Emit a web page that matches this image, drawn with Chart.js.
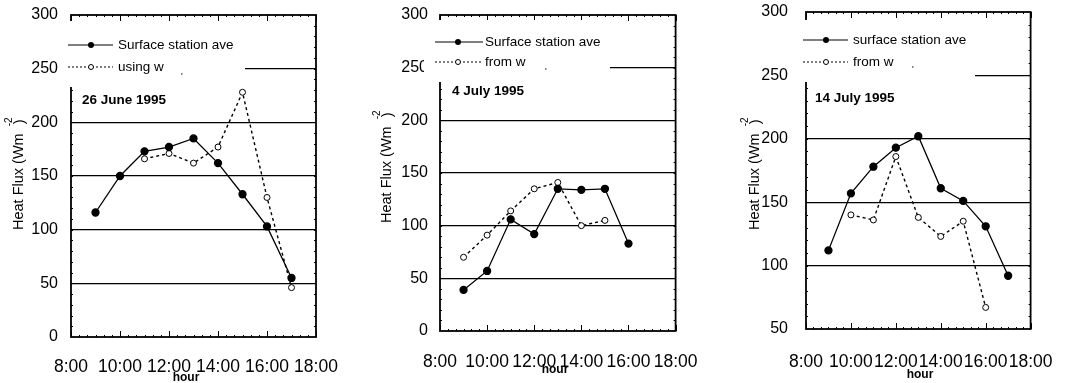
<!DOCTYPE html>
<html>
<head>
<meta charset="utf-8">
<script src="https://cdn.jsdelivr.net/npm/chart.js@4"></script>
<style>
    html, body { margin: 0; padding: 0; background: #fff; }
    canvas { position: absolute; top: 0; }
</style>
</head>
<body>
<canvas id="june26" width="358" height="383" style="left:0px"></canvas>
<canvas id="july4" width="358" height="383" style="left:360px"></canvas>
<canvas id="july14" width="355" height="383" style="left:720px"></canvas>
<script>
// tick labels for the hour axis
const hourTicks = [8, 10, 12, 14, 16, 18];
const hourLabels = ["8:00", "10:00", "12:00", "14:00", "16:00", "18:00"];

// 26 June 1995
const june26SurfaceHours = [9, 10, 11, 12, 13, 14, 15, 16, 17];
const june26Surface = [116, 150, 173, 177, 185, 162, 133, 103, 55];
const june26WHours = [11, 12, 13, 14, 15, 16, 17];
const june26W = [166, 171, 162, 177, 228, 130, 46];

// 4 July 1995
const july4SurfaceHours = [9, 10, 11, 12, 13, 14, 15, 16];
const july4Surface = [39, 57, 106, 92, 135, 134, 135, 83];
const july4WHours = [9, 10, 11, 12, 13, 14, 15];
const july4W = [70, 91, 114, 135, 141, 100, 105];

// 14 July 1995
const july14SurfaceHours = [9, 10, 11, 12, 13, 14, 15, 16, 17];
const july14Surface = [112, 157, 178, 193, 202, 161, 151, 131, 92];
const july14WHours = [10, 11, 12, 13, 14, 15, 16];
const july14W = [140, 136, 186, 138, 123, 135, 67];

const FONT = "'Liberation Sans', Arial, Helvetica, sans-serif";

function pts(hours, vals) {
    return hours.map((h, i) => ({ x: h, y: vals[i] }));
}

// frame, minor ticks, legend box, date and axis titles
function panelPlugin(p) {
    return {
        id: "panel",
        afterDraw(chart) {
            const c = chart.ctx;
            const a = chart.chartArea;
            const xs = chart.scales.x, ys = chart.scales.y;
            c.save();
            c.strokeStyle = "#000";
            c.fillStyle = "#000";

            // ticks on top and bottom
            c.lineWidth = 1;
            for (let i = 0; i <= 30; i++) {
                const px = Math.round(xs.getPixelForValue(8 + i / 3)) + 0.5;
                const len = i % 6 === 0 ? 6 : 2;
                c.beginPath();
                c.moveTo(px, a.bottom); c.lineTo(px, a.bottom - len);
                c.moveTo(px, a.top); c.lineTo(px, a.top + len);
                c.stroke();
            }
            for (let v = p.yMin + 10; v < 300; v += 10) {
                const py = Math.round(ys.getPixelForValue(v)) + 0.5;
                c.beginPath();
                c.moveTo(a.left, py); c.lineTo(a.left + 2, py);
                c.moveTo(a.right, py); c.lineTo(a.right - 2, py);
                c.stroke();
            }
            c.lineWidth = 1.8;
            c.strokeRect(a.left, a.top, a.right - a.left, a.bottom - a.top);

            // legend box hides the frame and grid behind it
            c.fillStyle = "#fff";
            c.fillRect(p.box[0], p.box[1], p.box[2] - p.box[0], p.box[3] - p.box[1]);

            c.fillStyle = "#000";
            c.lineWidth = 1.2;
            c.beginPath();
            c.moveTo(p.legLine[0], p.legY[0]); c.lineTo(p.legLine[1], p.legY[0]);
            c.stroke();
            c.beginPath();
            c.arc(p.legMark, p.legY[0], 3, 0, Math.PI * 2);
            c.fill();
            c.setLineDash([2, 2]);
            c.beginPath();
            c.moveTo(p.legLine[0], p.legY[1]); c.lineTo(p.legLine[1], p.legY[1]);
            c.stroke();
            c.setLineDash([]);
            c.fillStyle = "#fff";
            c.beginPath();
            c.arc(p.legMark, p.legY[1], 2.5, 0, Math.PI * 2);
            c.fill(); c.lineWidth = 1; c.stroke();

            c.fillStyle = "#000";
            c.font = "13.5px " + FONT;
            c.textBaseline = "middle";
            c.textAlign = "left";
            c.fillText(p.legend[0], p.legText, p.legY[0]);
            c.fillText(p.legend[1], p.legText, p.legY[1]);
            c.font = "9px " + FONT;
            c.fillText("'", p.comma[0], p.comma[1]);

            c.font = "bold 13.5px " + FONT;
            c.fillText(p.date, p.dateX, p.dateY);

            // y title with superscript
            c.translate(p.titleX, p.titleBottom);
            c.rotate(-Math.PI / 2);
            c.font = "14.5px " + FONT;
            c.fillText("Heat Flux (Wm", 0, 0);
            const w = c.measureText("Heat Flux (Wm").width;
            c.fillText(")", w + 9, 1);
            c.font = "10px " + FONT;
            c.fillText("-2", w + 7, -10);
            c.setTransform(1, 0, 0, 1, 0, 0);

            c.font = "bold 12px 'Liberation Sans Narrow', " + FONT;
            c.textAlign = "center";
            c.fillText("hour", p.hourX, p.hourY);
            c.restore();
        }
    };
}

function makeChart(p) {
    return new Chart(document.getElementById(p.id), {
        type: "line",
        data: {
            datasets: [{
                label: p.legend[0],
                data: pts(p.sHours, p.sVals),
                borderColor: "#000",
                borderWidth: 1.3,
                pointRadius: 3.5,
                pointBackgroundColor: "#000",
                pointBorderColor: "#000",
                tension: 0
            }, {
                label: p.legend[1],
                data: pts(p.wHours, p.wVals),
                borderColor: "#000",
                borderWidth: 1.4,
                borderDash: [3, 3],
                pointRadius: 3,
                pointBorderWidth: 1,
                pointBackgroundColor: "#fff",
                pointBorderColor: "#000",
                tension: 0
            }]
        },
        options: {
            responsive: false,
            animation: false,
            layout: { autoPadding: false, padding: { left: 0, right: p.padRight, top: p.top, bottom: 0 } },
            plugins: { legend: { display: false }, tooltip: { enabled: false } },
            scales: {
                x: {
                    type: "linear", min: 8, max: 18,
                    ticks: {
                        stepSize: 2, autoSkip: false, maxRotation: 0,
                        callback: v => hourLabels[hourTicks.indexOf(v)],
                        font: { family: FONT, size: 17.5 }, color: "#000", padding: p.xPad
                    },
                    grid: { display: false, drawTicks: false },
                    border: { display: false },
                    afterFit: s => { s.height = p.xHeight; }
                },
                y: {
                    min: p.yMin, max: 300,
                    ticks: { stepSize: 50, font: { family: FONT, size: 16 }, color: "#000", padding: p.yPad },
                    grid: {
                        drawTicks: false, lineWidth: 1.3,
                        color: ctx => (ctx.tick.value === p.yMin || ctx.tick.value === 300) ? "rgba(0,0,0,0)" : "#000"
                    },
                    border: { display: false },
                    // fixed axis width; label overhang must not push the plot down
                    afterFit: s => { s.width = p.left; s.paddingTop = 0; s.paddingBottom = 0; }
                }
            }
        },
        plugins: [panelPlugin(p)]
    });
}

makeChart({
    id: "june26", sHours: june26SurfaceHours, sVals: june26Surface, wHours: june26WHours, wVals: june26W,
    legend: ["Surface station ave", "using w"], date: "26 June 1995", yMin: 0,
    left: 71, padRight: 42, top: 15, xHeight: 46, xPad: 19.5, yPad: 13,
    box: [60, 21, 245, 87], legLine: [68, 113], legY: [45, 67], legMark: 91, legText: 118,
    comma: [181, 77], dateX: 82, dateY: 100, titleX: 19, titleBottom: 230, hourX: 186, hourY: 378
});
makeChart({
    id: "july4", sHours: july4SurfaceHours, sVals: july4Surface, wHours: july4WHours, wVals: july4W,
    legend: ["Surface station ave", "from w"], date: "4 July 1995", yMin: 0,
    left: 80, padRight: 36, top: 15, xHeight: 52, xPad: 20.5, yPad: 12,
    box: [64, 20, 250, 82], legLine: [75, 123], legY: [42, 62], legMark: 98, legText: 125,
    comma: [185, 72], dateX: 92, dateY: 91, titleX: 27, titleBottom: 223, hourX: 195, hourY: 370
});
makeChart({
    id: "july14", sHours: july14SurfaceHours, sVals: july14Surface, wHours: july14WHours, wVals: july14W,
    legend: ["surface station ave", "from w"], date: "14 July 1995", yMin: 50,
    left: 86, padRight: 22, top: 12, xHeight: 54, xPad: 22.5, yPad: 18,
    box: [80, 20, 255, 82], legLine: [83, 128], legY: [40, 62], legMark: 106, legText: 133,
    comma: [192, 70], dateX: 95, dateY: 98, titleX: 35, titleBottom: 230, hourX: 200, hourY: 375
});
</script>
</body>
</html>
